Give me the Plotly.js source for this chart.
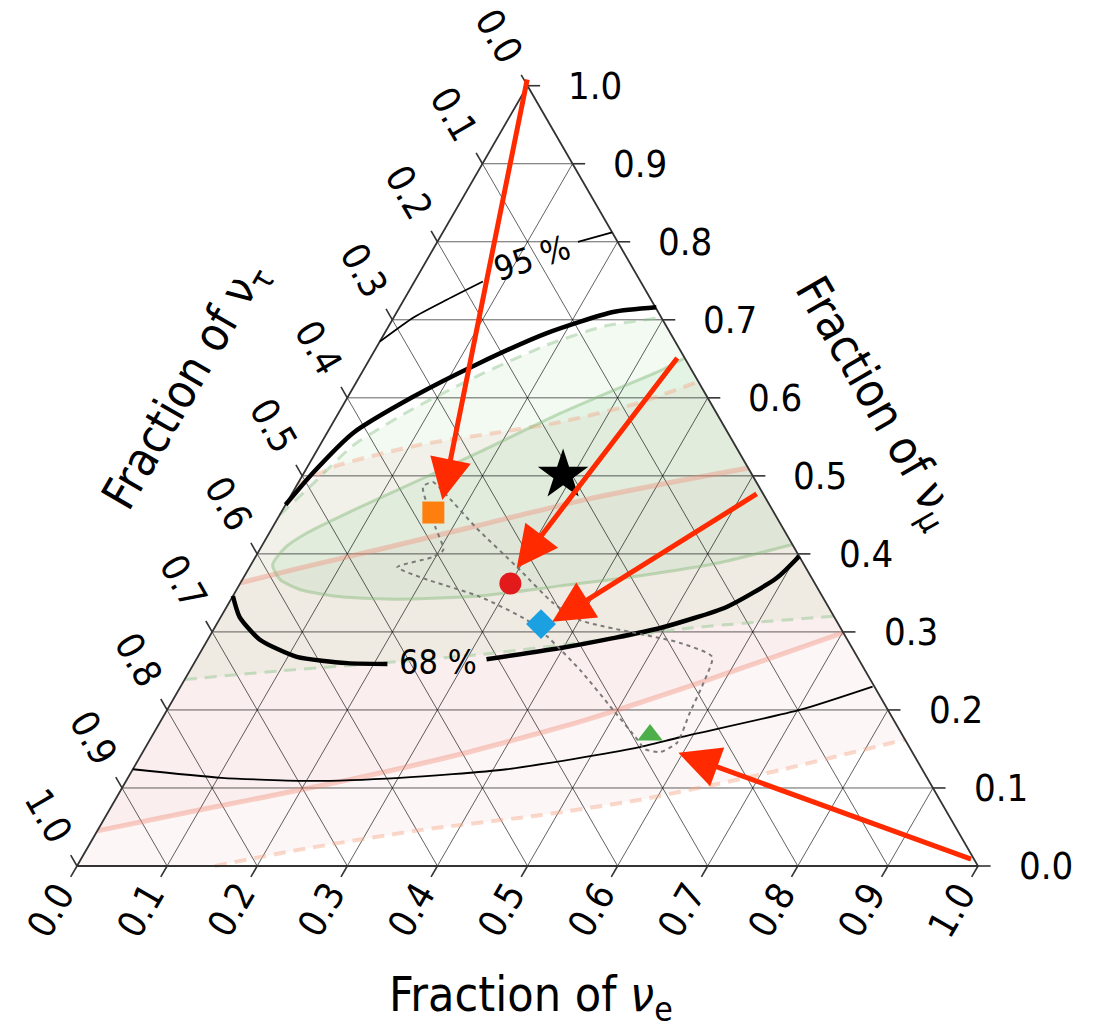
<!DOCTYPE html>
<html><head><meta charset="utf-8">
<script src="https://cdn.plot.ly/plotly-3.0.1.min.js"></script>
<style>html,body{margin:0;padding:0;background:#fff}</style>
</head><body><div id="chart" style="width:1094px;height:1028px"></div>
<script>
// ---------------- DATA (fractions of νe and νμ; ντ = 1 − νe − νμ) ----------------
const tickValues = [0,0.1,0.2,0.3,0.4,0.5,0.6,0.7,0.8,0.9,1.0];
const tickLabels = ['0.0','0.1','0.2','0.3','0.4','0.5','0.6','0.7','0.8','0.9','1.0'];

// black combined contours
const c68UpperE  = [0.000,0.010,0.029,0.072,0.125,0.180,0.240,0.285];
const c68UpperMu = [0.463,0.504,0.555,0.601,0.645,0.683,0.710,0.716];
const c68LowerAE  = [0.000,0.021,0.058,0.110,0.170,0.215];
const c68LowerAMu = [0.346,0.319,0.290,0.268,0.260,0.259];
const c68LowerBE  = [0.322,0.400,0.449,0.495,0.555,0.592,0.603];
const c68LowerBMu = [0.265,0.280,0.292,0.305,0.332,0.369,0.397];
const c95UpperAE  = [0.000,0.022,0.048,0.076];
const c95UpperAMu = [0.672,0.703,0.726,0.749];
const c95UpperBE  = [0.156,0.188];
const c95UpperBMu = [0.800,0.812];
const c95LowerE  = [0.000,0.104,0.205,0.302,0.415,0.544,0.587,0.702,0.768];
const c95LowerMu = [0.124,0.113,0.109,0.113,0.124,0.151,0.165,0.200,0.230];

// green contours
const g68E  = [0.349,0.330,0.288,0.246,0.182,0.133,0.084,0.042,0.027,0.024,0.042,0.071,0.120,0.187,0.274,0.357,0.439,0.520,0.588];
const g68Mu = [0.651,0.635,0.608,0.580,0.531,0.495,0.460,0.427,0.408,0.386,0.367,0.354,0.345,0.342,0.346,0.359,0.372,0.389,0.412];
const g95UpperE  = [0.000,0.017,0.037,0.080,0.133,0.188,0.240,0.298];
const g95UpperMu = [0.450,0.490,0.539,0.586,0.630,0.668,0.692,0.703];
const g95LowerE  = [0.000,0.100,0.206,0.312,0.415,0.528,0.680];
const g95LowerMu = [0.239,0.250,0.260,0.271,0.286,0.305,0.320];

// red contours
const r68UpperE  = [0.000,0.057,0.133,0.229,0.324,0.423,0.490];
const r68UpperMu = [0.363,0.382,0.406,0.437,0.468,0.494,0.510];
const r68LowerE  = [0.000,0.101,0.227,0.344,0.466,0.574,0.701];
const r68LowerMu = [0.045,0.072,0.105,0.140,0.185,0.235,0.299];
const r95UpperE  = [0.000,0.032,0.111,0.191,0.252,0.328,0.379];
const r95UpperMu = [0.489,0.513,0.540,0.556,0.569,0.594,0.621];
const r95LowerE  = [0.153,0.237,0.358,0.481,0.583,0.700,0.838];
const r95LowerMu = [0.000,0.021,0.046,0.065,0.085,0.117,0.162];

// dashed path (closed)
const pathE  = [0.149,0.169,0.227,0.297,0.360,0.401,0.526,0.571,0.578,0.582,0.587,0.574,0.555,0.541,0.495,0.433,0.375,0.342,0.275,0.199,0.164,0.197,0.204,0.180,0.141,0.149];
const pathMu = [0.492,0.478,0.433,0.383,0.337,0.315,0.286,0.268,0.235,0.196,0.158,0.146,0.150,0.162,0.200,0.251,0.294,0.315,0.345,0.369,0.383,0.396,0.405,0.435,0.486,0.492];

// best fit and source points
const bestE = [0.289], bestMu = [0.501];
const srcNames  = ['square','circle','diamond','triangle-up'];
const srcE  = [0.169,0.300,0.360,0.552];
const srcMu = [0.453,0.362,0.310,0.168];

// arrows
const arrowTailE  = [-0.005,0.341,0.517,0.990];
const arrowTailMu = [1.010,0.653,0.478,0.008];
const arrowHeadE  = [0.171,0.297,0.371,0.595];
const arrowHeadMu = [0.469,0.382,0.313,0.145];

// ---------------- GEOMETRY ----------------
const S = Math.sqrt(3)/2;
const cx = (e,m) => e + m/2;
const cy = m => m*S;
function pts(E,M){ return {x:E.map((e,i)=>cx(e,M[i])), y:M.map(cy)}; }

const traces = [];
function fillPoly(E,M,color){
  const p = pts(E,M);
  traces.push({type:'scatter',mode:'lines',x:p.x,y:p.y,fill:'toself',fillcolor:color,
    line:{width:0,color:'rgba(0,0,0,0)'},hoverinfo:'skip'});
}
function lineTr(E,M,color,width,dash){
  const p = pts(E,M);
  traces.push({type:'scatter',mode:'lines',x:p.x,y:p.y,
    line:{color:color,width:width,dash:dash||'solid',shape:'spline',smoothing:0.6},hoverinfo:'skip'});
}
const rev = a => a.slice().reverse();

// fills
fillPoly(r95UpperE.concat(rev(r95LowerE),[0]), r95UpperMu.concat(rev(r95LowerMu),[0]), 'rgba(214,50,45,0.045)');
fillPoly(r68UpperE.concat(rev(r68LowerE)), r68UpperMu.concat(rev(r68LowerMu)), 'rgba(214,50,45,0.04)');
fillPoly(g95UpperE.concat(rev(g95LowerE)), g95UpperMu.concat(rev(g95LowerMu)), 'rgba(100,185,90,0.08)');
fillPoly(g68E, g68Mu, 'rgba(90,200,115,0.10)');

// grid
const gx=[], gy=[];
tickValues.forEach(v=>{
  if(v<=0||v>=1) return;
  gx.push(cx(0,v),cx(1-v,v),null); gy.push(cy(v),cy(v),null);
  gx.push(cx(v,0),cx(v,1-v),null); gy.push(0,cy(1-v),null);
  gx.push(cx(1-v,0),cx(0,1-v),null); gy.push(0,cy(1-v),null);
});
traces.push({type:'scatter',mode:'lines',x:gx,y:gy,line:{color:'rgba(0,0,0,0.62)',width:1},hoverinfo:'skip'});

// ticks
const t = 0.014, tx=[], ty=[];
tickValues.forEach(v=>{
  tx.push(cx(v,0), cx(v,0)-t/2, null); ty.push(0,-t*S,null);
  tx.push(cx(1-v,v), cx(1-v,v)+t, null); ty.push(cy(v),cy(v),null);
  tx.push(cx(0,1-v), cx(0,1-v)-t/2, null); ty.push(cy(1-v),cy(1-v)+t*S,null);
});
traces.push({type:'scatter',mode:'lines',x:tx,y:ty,line:{color:'#333',width:1.6},hoverinfo:'skip'});

// colored contour lines
lineTr(r68UpperE,r68UpperMu,'rgba(240,140,120,0.4)',5);
lineTr(r68LowerE,r68LowerMu,'rgba(240,140,120,0.4)',5);
lineTr(r95UpperE,r95UpperMu,'rgba(245,170,140,0.45)',4,'12px,8px');
lineTr(r95LowerE,r95LowerMu,'rgba(245,170,140,0.45)',4,'12px,8px');
lineTr(g68E,g68Mu,'rgba(130,185,120,0.45)',3);
lineTr(g95UpperE,g95UpperMu,'rgba(150,200,150,0.5)',3,'12px,8px');
lineTr(g95LowerE,g95LowerMu,'rgba(150,200,150,0.5)',3,'12px,8px');

// triangle outline
traces.push({type:'scatter',mode:'lines',x:[0,1,0.5,0],y:[0,0,S,0],line:{color:'#333',width:1.8},hoverinfo:'skip'});

// black contours
lineTr(c68UpperE,c68UpperMu,'#000',4.5);
lineTr(c68LowerAE,c68LowerAMu,'#000',4.5);
lineTr(c68LowerBE,c68LowerBMu,'#000',4.5);
lineTr(c95UpperAE,c95UpperAMu,'#000',1.8);
lineTr(c95UpperBE,c95UpperBMu,'#000',1.8);
lineTr(c95LowerE,c95LowerMu,'#000',1.8);

// dashed path
lineTr(pathE,pathMu,'rgba(110,110,110,0.9)',2,'4px,4px');

// markers
const pb = pts(bestE,bestMu);
traces.push({type:'scatter',mode:'markers',x:pb.x,y:pb.y,marker:{symbol:'star',size:38,color:'#000'},hoverinfo:'skip'});
const srcColors = ['#ff7f0e','#e31a1c','#1ba1e2','#4daf4a'];
const srcSizes = [22,22,23,22];
srcNames.forEach((s,i)=>{
  traces.push({type:'scatter',mode:'markers',x:[cx(srcE[i],srcMu[i])],y:[cy(srcMu[i])],
    marker:{symbol:s,size:srcSizes[i],color:srcColors[i],line:{width:0}},hoverinfo:'skip'});
});

// annotations
const FONT = 'DejaVu Sans Condensed, DejaVu Sans, sans-serif';
const ann = [];
const d1 = 0.057, d2 = 0.064;
tickValues.forEach((v,i)=>{
  ann.push({x:cx(v,0)-d1*0.5,y:-d1*S,text:tickLabels[i],textangle:-60,showarrow:false,xanchor:'center',yanchor:'middle',font:{family:FONT,size:38,color:'#000'}});
  ann.push({x:cx(1-v,v)+0.043,y:cy(v),text:tickLabels[i],showarrow:false,xanchor:'left',yanchor:'middle',font:{family:FONT,size:38,color:'#000'}});
  ann.push({x:cx(0,1-v)-d2*0.5,y:cy(1-v)+d2*S,text:tickLabels[i],textangle:60,showarrow:false,xanchor:'center',yanchor:'middle',font:{family:FONT,size:38,color:'#000'}});
});
ann.push({x:0.504,y:-0.146,text:'Fraction of <i>ν</i><sub>e</sub>',showarrow:false,xanchor:'center',yanchor:'middle',font:{family:FONT,size:48,color:'#000'}});
ann.push({x:0.121,y:0.532,text:'Fraction of ν<sub>τ</sub>',textangle:-60,showarrow:false,xanchor:'center',yanchor:'middle',font:{family:FONT,size:47,color:'#000'}});
ann.push({x:0.886,y:0.514,text:'Fraction of ν<sub>μ</sub>',textangle:60,showarrow:false,xanchor:'center',yanchor:'middle',font:{family:FONT,size:47,color:'#000'}});
ann.push({x:cx(0.270,0.2615),y:cy(0.2615),text:'68 %',showarrow:false,xanchor:'center',yanchor:'middle',font:{family:FONT,size:34,color:'#000'}});
ann.push({x:cx(0.115,0.7795),y:cy(0.7795),text:'95 %',textangle:-18,showarrow:false,xanchor:'center',yanchor:'middle',font:{family:FONT,size:34,color:'#000'}});
arrowHeadE.forEach((e,i)=>{
  ann.push({x:cx(e,arrowHeadMu[i]),y:cy(arrowHeadMu[i]),ax:cx(arrowTailE[i],arrowTailMu[i]),ay:cy(arrowTailMu[i]),
    xref:'x',yref:'y',axref:'x',ayref:'y',showarrow:true,arrowhead:2,arrowsize:1.65,arrowwidth:5,arrowcolor:'#ff2a00',text:'',standoff:0});
});

const layout = {
  width:1094,height:1028,margin:{l:0,r:0,t:0,b:0},showlegend:false,
  paper_bgcolor:'#fff',plot_bgcolor:'#fff',
  xaxis:{range:[-77/901,(1094-77)/901],visible:false,fixedrange:true},
  yaxis:{range:[-(1028-866)/901,866/901],visible:false,fixedrange:true},
  annotations:ann
};
Plotly.newPlot('chart',traces,layout,{staticPlot:true,displayModeBar:false});
</script></body></html>
